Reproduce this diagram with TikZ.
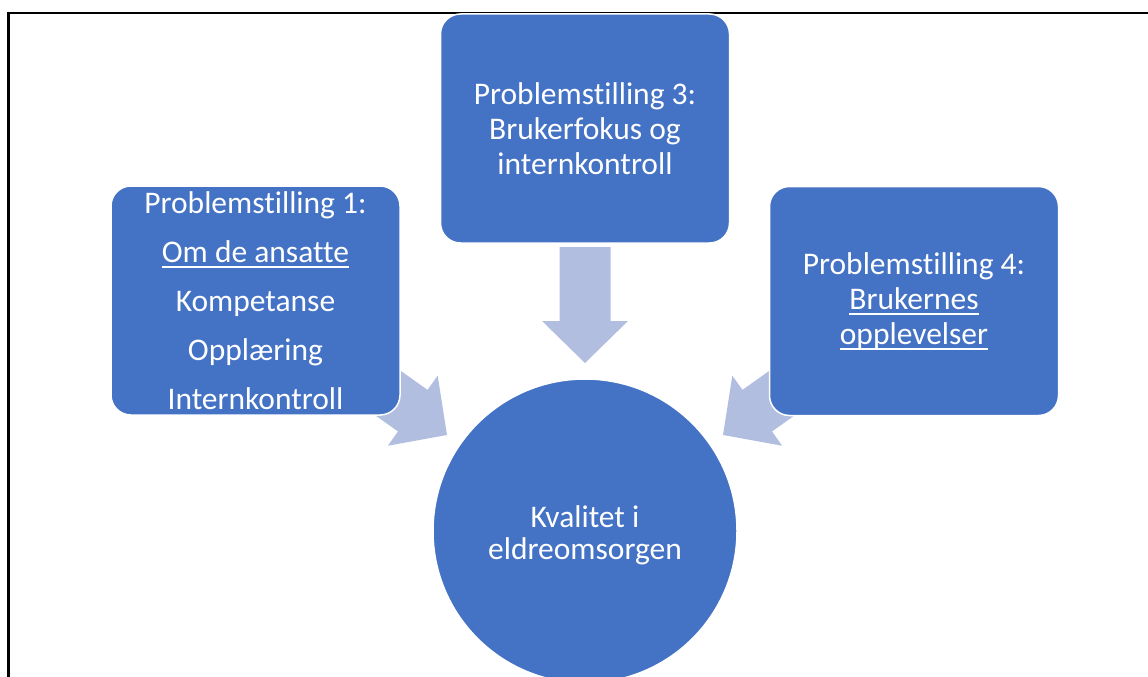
\documentclass[tikz,border=0pt]{standalone}
\usepackage{fontspec}
\setmainfont{Carlito}[Ligatures=NoCommon]
\definecolor{boxblue}{HTML}{4472C4}
\definecolor{arrowblue}{HTML}{B1BEDF}
\newcommand\myul[1]{\sbox0{#1}\rlap{\vrule height -3.5pt depth 5.5pt width \wd0}\usebox0}
\newcommand\blockarrowshape{\fill[arrowblue] (-116,-25.5) -- (-42,-25.5) -- (-42,-43) -- (0,0) -- (-42,43) -- (-42,25.5) -- (-116,25.5) -- cycle;}
\tikzset{
  probbox/.style={draw=white, line width=1.5pt, fill=boxblue, rounded corners=20pt,
    minimum width=289pt, minimum height=229pt, inner sep=0pt, text=white, align=center,
    font=\fontsize{31.5}{35}\selectfont},
  mainnode/.style={circle, draw=white, line width=1.5pt, fill=boxblue, minimum size=304pt,
    inner sep=0pt, text=white, align=center, font=\fontsize{31.5}{31.5}\selectfont},
  framestyle/.style={line width=2.2pt, black}
}
\begin{document}
\begin{tikzpicture}[x=1pt,y=-1pt]
\useasboundingbox (0,0) rectangle (1148,677);
% frame
\coordinate (fbl) at (8.5,690);
\coordinate (ftl) at (8.5,13);
\coordinate (ftr) at (1150,13);
\draw[framestyle] (fbl) -- (ftl) -- (ftr);
% arrows (behind boxes)
\begin{scope}[shift={(585,363)}, rotate=-90]\blockarrowshape\end{scope}
\begin{scope}[shift={(447,435)}, rotate=-35.4]\blockarrowshape\end{scope}
\begin{scope}[shift={(723,435)}, rotate=-144.6]\blockarrowshape\end{scope}
% boxes
\node[probbox, font=\fontsize{31.5}{49}\selectfont] (p1) at (255.5,300.5)
  {Problemstilling 1:\\\myul{Om de ansatte}\\Kompetanse\\Opplæring\\Internkontroll};
\node[probbox] (p3) at (585,128.5)
  {Problemstilling 3:\\Brukerfokus og\\internkontroll};
\node[probbox] (p4) at (914,301)
  {Problemstilling 4:\\\myul{Brukernes}\\\myul{opplevelser}};
\node[mainnode] (k) at (585,531) {\rule{0pt}{30pt}Kvalitet i\\eldreomsorgen};
\end{tikzpicture}
\end{document}
